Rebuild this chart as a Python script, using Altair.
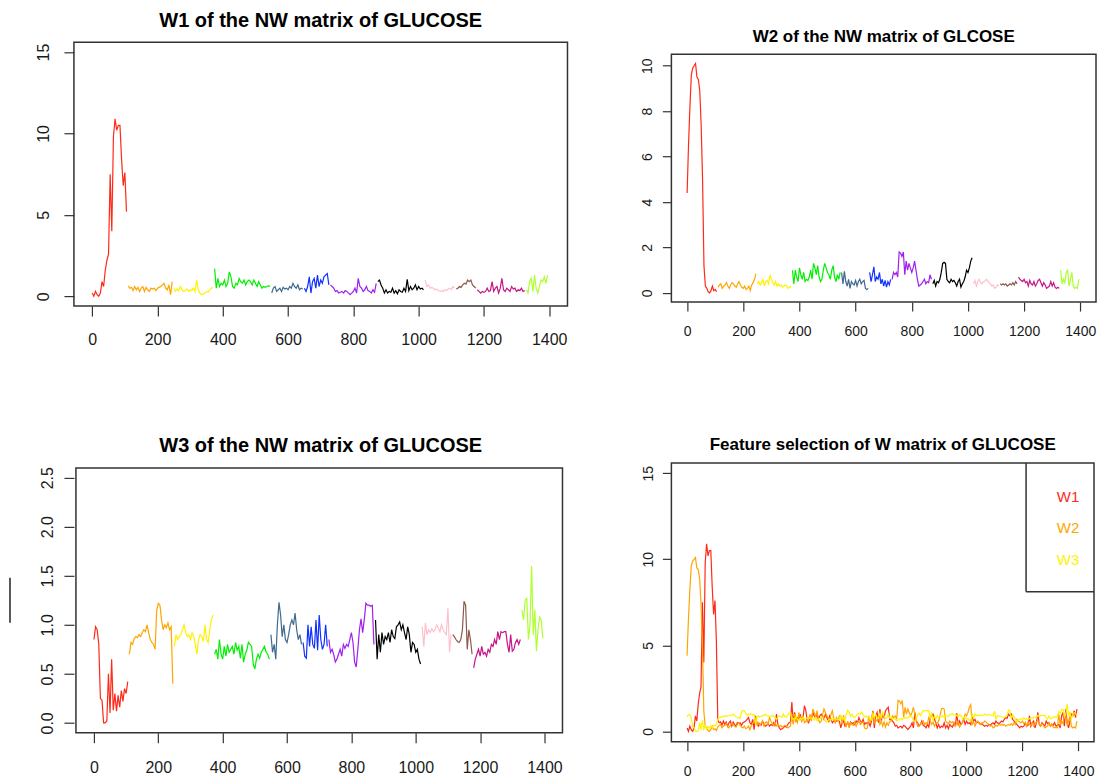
import altair as alt
import pandas as pd

FONT = "Liberation Sans"

# x positions: each segment starts at SEG_START and advances by STEP per value
SEG_START = [0, 110, 250, 375, 550, 650, 730, 875, 1020, 1115, 1180, 1330]
STEP = 5
SEG_NAMES = ["g01", "g02", "g03", "g04", "g05", "g06", "g07", "g08", "g09", "g10", "g11", "g12"]
SEG_COLORS = ["#FF2A1A", "#FFA500", "#FFF200", "#00F000", "#3F6A8F", "#1030FF",
              "#A020F0", "#000000", "#FFC0CB", "#8B5A4A", "#C71585", "#ADFF2F"]

X_TICKS = [0, 200, 400, 600, 800, 1000, 1200, 1400]

W1 = [
    [0.2, 0.0, 0.3, 0.1, 0.0, 0.2, 0.9, 0.6, 1.6, 2.2, 2.6, 7.5, 4.0, 9.8, 10.9, 10.2, 10.5, 10.5, 8.4, 6.8, 7.6, 5.2],
    [0.65, 0.5, 0.55, 0.35, 0.6, 0.4, 0.55, 0.3, 0.5, 0.6, 0.3, 0.55, 0.4, 0.3, 0.5, 0.45, 0.5, 0.35, 0.5, 0.55, 0.6, 0.7, 0.8, 0.5, 0.4, 0.7, 0.1, 0.9],
    [0.5, 0.3, 0.45, 0.35, 0.6, 0.4, 0.3, 0.35, 0.45, 0.3, 0.4, 0.35, 0.5, 0.3, 1.0, 0.4, 0.2, 0.1, 0.15, 0.2, 0.3, 0.25, 0.4, 0.5, 0.55],
    [1.7, 0.5, 1.1, 0.6, 0.8, 0.7, 1.0, 0.6, 0.8, 1.5, 1.2, 0.6, 0.5, 0.8, 0.7, 1.1, 0.9, 0.8, 1.0, 0.7, 0.9, 1.0, 0.9, 0.7, 1.0, 0.8, 0.6, 0.9, 0.7, 0.5, 0.6, 0.55, 0.6, 0.65, 0.6],
    [0.2, 0.5, 0.6, 0.3, 0.4, 0.5, 0.3, 0.55, 0.45, 0.5, 0.4, 0.6, 0.5, 0.8, 0.6, 0.5, 0.7, 0.4, 0.5, 0.45],
    [0.5, 0.3, 0.6, 1.2, 0.2, 0.9, 1.1, 0.5, 1.3, 0.6, 1.0, 0.8, 1.2, 1.3, 1.4, 0.7],
    [0.7, 0.6, 0.5, 0.3, 0.35, 0.2, 0.25, 0.3, 0.2, 0.35, 0.3, 0.2, 0.1, 0.2, 0.3, 0.5, 0.2, 1.1, 0.6, 0.5, 0.3, 0.4, 0.6, 0.35, 0.3, 0.2, 0.4, 0.25, 0.8],
    [0.9, 1.0, 0.7, 0.5, 0.2, 0.4, 0.2, 0.3, 0.25, 0.5, 0.2, 0.35, 0.15, 0.4, 0.3, 0.25, 0.5, 0.3, 1.05, 0.35, 0.6, 0.4, 0.5, 0.7, 0.4, 0.6, 0.45, 0.5, 0.4],
    [1.0, 0.6, 0.7, 0.5, 0.55, 0.5, 0.4, 0.45, 0.35, 0.3, 0.35, 0.3, 0.4, 0.35, 0.45, 0.5, 0.4, 0.6, 0.5],
    [0.45, 0.5, 0.6, 0.55, 0.7, 0.8, 0.75, 1.0, 0.9, 1.0, 0.7, 0.6, 0.5],
    [0.4, 0.3, 0.2, 0.3, 0.25, 0.3, 0.5, 0.3, 0.35, 0.9, 0.3, 0.5, 0.6, 0.2, 0.5, 1.1, 0.4, 0.3, 0.5, 0.4, 0.3, 0.6, 0.45, 0.5, 0.3, 0.4, 0.35, 0.5, 0.3, 0.35],
    [0.4, 0.2, 0.9, 1.1, 0.3, 1.3, 0.5, 0.2, 0.6, 1.0, 0.9, 1.2, 0.8, 1.3],
]

W2 = [
    [4.4, 6.5, 8.2, 9.6, 9.9, 10.0, 10.1, 9.5, 9.4, 8.9, 7.4, 5.0, 1.2, 0.3, 0.2, 0.05, 0.0, 0.1, 0.3, 0.1, 0.15, 0.05],
    [0.25, 0.35, 0.4, 0.2, 0.3, 0.35, 0.45, 0.3, 0.2, 0.35, 0.45, 0.4, 0.3, 0.25, 0.4, 0.5, 0.35, 0.25, 0.2, 0.3, 0.15, 0.2, 0.3, 0.1, 0.35, 0.45, 0.6, 0.85],
    [0.4, 0.5, 0.35, 0.45, 0.6, 0.3, 0.5, 0.55, 0.4, 0.8, 0.6, 0.45, 0.35, 0.5, 0.3, 0.4, 0.3, 0.35, 0.25, 0.3, 0.35, 0.3, 0.2, 0.25, 0.3],
    [1.0, 0.4, 1.0, 0.7, 0.5, 1.1, 0.8, 0.6, 0.9, 0.5, 0.6, 0.55, 0.7, 1.0, 0.6, 1.3, 1.1, 0.8, 1.2, 0.7, 0.5, 0.6, 1.0, 1.3, 1.1, 0.9, 0.8, 0.6, 1.0, 1.2, 0.7, 0.5, 0.8, 0.6, 0.9],
    [0.9, 0.4, 0.95, 0.5, 0.3, 0.6, 0.2, 0.5, 0.4, 0.35, 0.55, 0.3, 0.5, 0.6, 0.4, 0.5, 0.55, 0.2, 0.15, 0.2],
    [0.9, 0.5, 0.8, 1.15, 0.5, 0.7, 0.6, 0.9, 0.4, 0.6, 0.3, 0.55, 0.25, 0.5, 0.35, 0.6],
    [0.6, 0.9, 0.8, 0.9, 0.7, 1.8, 1.75, 1.6, 1.8, 0.8, 1.4, 1.0, 1.3, 1.1, 0.9, 1.1, 1.4, 1.0, 0.6, 0.3, 0.35, 0.4, 0.5, 0.6, 0.4, 0.5, 0.45, 0.8, 0.6],
    [0.4, 0.55, 0.3, 0.5, 0.45, 0.6, 0.9, 1.3, 1.35, 1.3, 0.6, 0.5, 0.45, 0.6, 0.5, 0.55, 0.45, 0.3, 0.5, 0.6, 0.25, 0.4, 0.5, 0.7, 1.0, 0.9, 1.1, 1.4, 1.55],
    [0.4, 0.55, 0.3, 0.5, 0.6, 0.45, 0.4, 0.5, 0.5, 0.6, 0.55, 0.45, 0.4, 0.3, 0.35, 0.2, 0.25, 0.35, 0.3],
    [0.4, 0.35, 0.4, 0.35, 0.4, 0.3, 0.35, 0.4, 0.35, 0.45, 0.35, 0.5, 0.4],
    [0.7, 0.6, 0.55, 0.5, 0.6, 0.45, 0.5, 0.3, 0.55, 0.4, 0.35, 0.5, 0.3, 0.4, 0.55, 0.6, 0.45, 0.3, 0.45, 0.35, 0.2, 0.25, 0.3, 0.5, 0.3, 0.45, 0.25, 0.2, 0.25, 0.2],
    [1.0, 0.4, 0.6, 0.45, 0.9, 1.0, 0.3, 0.6, 0.9, 0.3, 0.2, 0.25, 0.2, 0.6],
]

W3 = [
    [0.85, 0.98, 0.95, 0.8, 0.25, 0.23, 0.0, 0.0, 0.02, 0.5, 0.1, 0.65, 0.13, 0.3, 0.12, 0.28, 0.16, 0.33, 0.22, 0.35, 0.3, 0.42],
    [0.7, 0.82, 0.8, 0.86, 0.88, 0.87, 0.9, 0.88, 0.92, 0.95, 0.93, 1.0, 0.92, 0.85, 0.82, 0.8, 0.75, 1.15, 1.22, 1.2, 1.05, 0.95, 1.0, 0.97, 1.02, 0.95, 0.98, 0.4],
    [0.78, 0.9, 0.85, 0.88, 0.9, 0.95, 1.0, 0.92, 0.88, 0.9, 0.85, 0.92, 0.88, 0.8, 0.7, 0.85, 0.9, 0.88, 0.83, 1.0, 0.85, 0.82, 0.95, 1.05, 1.1],
    [0.7, 0.75, 0.65, 0.85, 0.7, 0.65, 0.78, 0.68, 0.8, 0.72, 0.75, 0.78, 0.7, 0.82, 0.74, 0.78, 0.66, 0.8, 0.62, 0.7, 0.74, 0.82, 0.8, 0.78, 0.6, 0.55, 0.65, 0.7, 0.66, 0.72, 0.75, 0.78, 0.72, 0.7, 0.65],
    [0.9, 0.72, 0.8, 0.65, 1.0, 1.23, 1.1, 0.88, 1.0, 0.85, 0.82, 0.9, 1.0, 1.05, 1.0, 1.12, 0.95, 0.85, 0.9, 0.8],
    [0.82, 0.68, 0.66, 1.0, 0.78, 0.98, 0.8, 0.76, 1.05, 0.74, 1.1, 0.85, 0.75, 0.8, 1.0, 0.78],
    [0.85, 0.72, 0.75, 0.7, 0.62, 0.65, 0.7, 0.75, 0.68, 0.8, 0.76, 0.8, 0.78, 0.85, 0.92, 0.82, 0.62, 0.57, 0.75, 0.95, 1.06, 0.92, 1.05, 1.22, 1.2, 1.2, 1.19, 1.2, 0.8],
    [1.05, 0.65, 0.9, 0.72, 0.92, 0.8, 0.88, 0.85, 0.92, 0.82, 0.95, 0.88, 0.86, 0.98, 1.0, 1.03, 0.95, 1.0, 0.92, 0.85, 0.98, 0.9, 0.72, 0.82, 0.8, 0.72, 0.75, 0.65, 0.6],
    [0.98, 0.78, 1.02, 0.9, 0.95, 0.92, 0.96, 0.93, 0.95, 1.0, 0.97, 0.93, 1.0, 0.95, 0.92, 0.9, 1.17, 0.72, 0.9],
    [0.9, 0.88, 0.85, 0.83, 0.82, 0.85, 0.95, 1.24, 1.2, 0.75, 0.95, 0.85, 0.7],
    [0.56, 0.65, 0.7, 0.75, 0.68, 0.78, 0.7, 0.72, 0.68, 0.75, 0.72, 0.8, 0.78, 0.85, 0.8, 0.93, 0.85, 0.93, 0.92, 0.93, 0.93, 0.8, 0.72, 0.9, 0.73, 0.75, 0.82, 0.85, 0.8, 0.85],
    [1.15, 1.05, 1.25, 1.27, 0.85, 1.0, 1.6, 0.9, 1.15, 0.73, 0.95, 1.08, 1.05, 0.86],
]

LEGEND_LABELS = ["W1", "W2", "W3"]
LEGEND_COLORS = ["#FF2A1A", "#FFA500", "#FFF200"]
LEGEND_ROWS = [0, 1, 2]


def seg_frame(series, name):
    rows = []
    for k, vals in enumerate(series):
        for i, v in enumerate(vals):
            rows.append({"x": SEG_START[k] + STEP * i, "y": v, "seg": SEG_NAMES[k], "series": name})
    return pd.DataFrame(rows)


df1 = seg_frame(W1, "W1")
df2 = seg_frame(W2, "W2")
df3 = seg_frame(W3, "W3")
df_all = pd.concat([df1, df2, df3], ignore_index=True)
ONE = pd.DataFrame({"k": [0]})

FRAME = alt.ViewBackground(stroke="#333333", strokeWidth=1.5, fill="white")
NOFRAME = alt.ViewBackground(stroke="transparent", fill="white")
LW = 1.2


def axes(font, tick, xpad, ypad, yvals, yfmt):
    xa = alt.Axis(values=X_TICKS, title=None, grid=False, domain=False, format="d",
                  tickSize=tick, tickColor="#333333", tickWidth=1.2,
                  labelFont=FONT, labelFontSize=font, labelColor="#1a1a1a",
                  labelPadding=xpad, labelBaseline="top", labelFlush=False, labelOverlap=False)
    ya = alt.Axis(values=yvals, title=None, grid=False, domain=False, format=yfmt,
                  tickSize=tick, tickColor="#333333", tickWidth=1.2,
                  labelFont=FONT, labelFontSize=font, labelColor="#1a1a1a",
                  labelPadding=ypad, labelAngle=270, labelAlign="center",
                  labelBaseline="alphabetic", labelFlush=False, labelOverlap=False)
    return xa, ya


def title(text, size, offset):
    return alt.TitleParams(text=text, font=FONT, fontSize=size, fontWeight="bold",
                           color="black", anchor="middle", offset=offset, baseline="alphabetic")


def seg_lines(df, ydom, yvals, yfmt, font, tick, xpad, ypad, xrange=None, yrange=None):
    xa, ya = axes(font, tick, xpad, ypad, yvals, yfmt)
    xs = alt.Scale(domain=[-56, 1456], nice=False, zero=False)
    ys = alt.Scale(domain=ydom, nice=False, zero=False)
    if xrange is not None:
        xs = alt.Scale(domain=[-56, 1456], nice=False, zero=False, range=xrange)
    if yrange is not None:
        ys = alt.Scale(domain=ydom, nice=False, zero=False, range=yrange)
    return alt.Chart(df).mark_line(strokeWidth=LW).encode(
        x=alt.X("x:Q", scale=xs, axis=xa),
        y=alt.Y("y:Q", scale=ys, axis=ya),
        color=alt.Color("seg:N", scale=alt.Scale(domain=SEG_NAMES, range=SEG_COLORS), legend=None),
        detail="seg:N",
    )


def frame_rect(x0, x1, y0, y1):
    return alt.Chart(ONE).mark_rect(fillOpacity=0, stroke="#333333", strokeWidth=1.5).encode(
        x=alt.value(x0), x2=alt.value(x1), y=alt.value(y0), y2=alt.value(y1))


# Panel 1
p1 = seg_lines(df1, [-0.6, 15.6], [0, 5, 10, 15], "d", 16, 10, 15, 15).properties(
    width=494, height=264, view=FRAME,
    title=title("W1 of the NW matrix of GLUCOSE", 20, -5))

# Panel 2 (plot sits 12px lower inside its cell)
p2 = alt.layer(
    seg_lines(df2, [-0.404, 10.504], [0, 2, 4, 6, 8, 10], "d", 14, 9, 13, 11, yrange=[260, 12]),
    frame_rect(0, 425, 12, 260),
).properties(width=425, height=260, view=NOFRAME,
             title=title("W2 of the NW matrix of GLCOSE", 17, -17))

# Panel 3 (plot sits 2px right and 5px lower inside its cell)
stub = alt.Chart(ONE).mark_rule(color="#222222", strokeWidth=1.5).encode(
    x=alt.value(-64), y=alt.value(115), y2=alt.value(160))
p3 = alt.layer(
    seg_lines(df3, [-0.1, 2.6], [0, 0.5, 1.0, 1.5, 2.0, 2.5], ".1f", 16, 10, 17, 11,
              xrange=[2, 489], yrange=[270, 5]),
    frame_rect(2, 489, 5, 270),
    stub,
).properties(width=494, height=270, view=NOFRAME,
             title=title("W3 of the NW matrix of GLUCOSE", 20, -9))

# Panel 4
xa4, ya4 = axes(14, 9, 14, 10, [0, 5, 10, 15], "d")
lines4 = alt.Chart(df_all).mark_line(strokeWidth=LW).encode(
    x=alt.X("x:Q", scale=alt.Scale(domain=[-56, 1456], nice=False, zero=False), axis=xa4),
    y=alt.Y("y:Q", scale=alt.Scale(domain=[-0.6, 15.6], nice=False, zero=False), axis=ya4),
    color=alt.Color("series:N", scale=alt.Scale(domain=LEGEND_LABELS, range=LEGEND_COLORS), legend=None),
    order=alt.Order("x:Q"),
)
box_v = alt.Chart(ONE).mark_rule(color="#333333", strokeWidth=1.5).encode(
    x=alt.value(355), y=alt.value(0), y2=alt.value(129))
box_h = alt.Chart(ONE).mark_rule(color="#333333", strokeWidth=1.5).encode(
    x=alt.value(355), x2=alt.value(423), y=alt.value(129))
leg_df = pd.DataFrame({"label": LEGEND_LABELS, "row": LEGEND_ROWS})
leg_text = alt.Chart(leg_df).mark_text(font=FONT, fontSize=15, align="center", baseline="middle").encode(
    x=alt.value(397),
    y=alt.Y("row:Q", scale=alt.Scale(domain=[0, 2], range=[34, 97]), axis=None),
    text="label:N",
    color=alt.Color("label:N", scale=alt.Scale(domain=LEGEND_LABELS, range=LEGEND_COLORS), legend=None),
)
p4 = alt.layer(lines4, box_v, box_h, leg_text).resolve_scale(
    color="independent", y="independent").properties(
    width=423, height=279, view=FRAME,
    title=title("Feature selection of W matrix of GLUCOSE", 17, -5))

chart = alt.concat(p1, p2, p3, p4, columns=2, bounds="flush",
                   spacing={"row": 157, "column": 104}).properties(
    padding={"left": 8, "top": 10, "right": 2, "bottom": 2},
    background="white",
)

chart.save("out.html", embed_options={"renderer": "svg", "actions": False})
